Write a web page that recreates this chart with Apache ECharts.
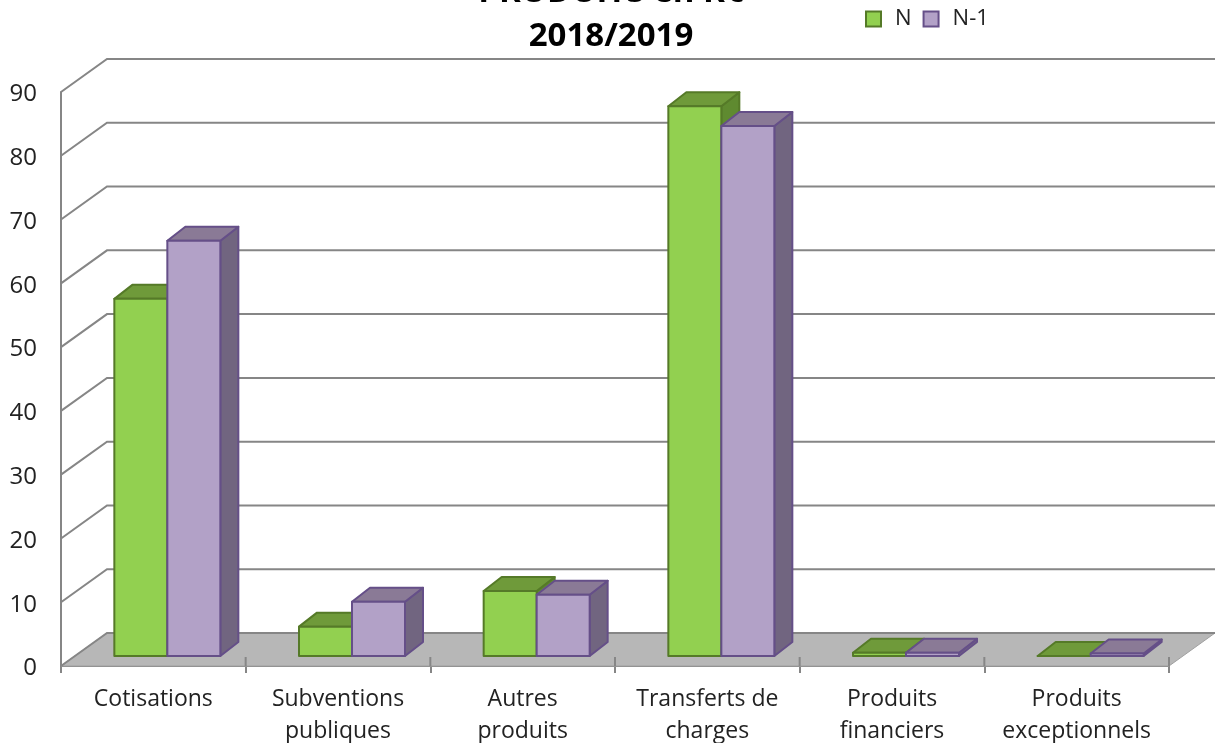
<!DOCTYPE html>
<html>
<head>
<meta charset="utf-8">
<script src="https://cdn.jsdelivr.net/npm/echarts@6/dist/echarts.min.js"></script>
<style>
  html, body { margin: 0; padding: 0; background: #fff; }
  #main { width: 1215px; height: 743px; }
</style>
</head>
<body>
<div id="main"></div>
<script>
const categories = ['Cotisations', 'Subventions\npubliques', 'Autres\nproduits', 'Transferts de\ncharges', 'Produits\nfinanciers', 'Produits\nexceptionnels'];
const valuesN = [56, 4.6, 10.2, 86.2, 0.5, 0];
const valuesN1 = [65.1, 8.5, 9.6, 83.1, 0.5, 0.4];
const yTicks = [0, 10, 20, 30, 40, 50, 60, 70, 80, 90];

// fake 3d offsets, in pixels
const depthX = 46, depthY = -33;
const barLift = 10, barShift = 14, barDepthX = 18, barDepthY = -14;
const barWidth = 53;
const tickUp = 9;
const fontName = '"Open Sans", "Noto Sans", sans-serif';

function wallItem(params, api) {
  const v = api.value(0);
  const p = api.coord([0, v]);
  const step = api.size([1, 0])[0];
  const x0 = api.coord([0, 0])[0] - step / 2;
  const x1 = x0 + step * categories.length;
  const y = p[1];
  const line = { stroke: '#868686', lineWidth: 2, fill: null };
  const children = [{
    type: 'polyline',
    shape: { points: [[x0, y], [x0 + depthX, y + depthY], [x1 + depthX, y + depthY]] },
    style: line
  }];
  if (v === 0) {
    children.unshift({
      type: 'polygon',
      shape: { points: [[x0, y], [x0 + depthX, y + depthY], [x1 + depthX, y + depthY], [x1, y]] },
      style: { fill: '#b7b7b7', stroke: '#a0a0a0', lineWidth: 1 }
    });
    // the category ticks also poke up a bit into the floor
    categories.concat(['']).forEach(function (c, i) {
      children.push({
        type: 'line',
        shape: { x1: x0 + step * i, y1: y, x2: x0 + step * i, y2: y - tickUp },
        style: { stroke: '#868686', lineWidth: 2 }
      });
    });
  }
  return { type: 'group', children: children };
}

function barItem(side, colors) {
  return function (params, api) {
    const i = api.value(0);
    const base = api.coord([i, 0]);
    const top = api.coord([i, api.value(1)]);
    const xl = base[0] + barShift + (side === 0 ? -barWidth : 0);
    const xr = xl + barWidth;
    const yb = base[1] - barLift;
    const yt = top[1] - barLift;
    const edge = { stroke: colors.edge, lineWidth: 2, lineJoin: 'round' };
    return {
      type: 'group',
      children: [{
        type: 'polygon',
        shape: { points: [[xr, yb], [xr + barDepthX, yb + barDepthY], [xr + barDepthX, yt + barDepthY], [xr, yt]] },
        style: Object.assign({ fill: colors.side }, edge)
      }, {
        type: 'polygon',
        shape: { points: [[xl, yt], [xl + barDepthX, yt + barDepthY], [xr + barDepthX, yt + barDepthY], [xr, yt]] },
        style: Object.assign({ fill: colors.top }, edge)
      }, {
        type: 'rect',
        shape: { x: xl, y: yt, width: barWidth, height: yb - yt },
        style: Object.assign({ fill: colors.front }, edge)
      }]
    };
  };
}

const greenBar = { front: '#92d050', top: '#6f9a3a', side: '#5f8a30', edge: '#557a28' };
const purpleBar = { front: '#b2a1c7', top: '#8a7a96', side: '#716580', edge: '#654f88' };

const myChart = echarts.init(document.getElementById('main'), null, { renderer: 'canvas' });
myChart.setOption({
  backgroundColor: '#fff',
  animation: false,
  title: {
    text: 'PRODUITS en K€\n2018/2019',
    left: 606,
    top: -34,
    textAlign: 'center',
    textStyle: { fontFamily: fontName, fontSize: 33, fontWeight: 'bold', color: '#000', lineHeight: 44 }
  },
  legend: {
    data: ['N', 'N-1'],
    left: 860,
    top: 3,
    icon: 'rect',
    itemWidth: 15,
    itemHeight: 15,
    itemGap: 11,
    textStyle: { fontFamily: fontName, fontSize: 22, color: '#222', padding: [0, 0, 0, 9] }
  },
  grid: { left: 61, right: 46, top: 92, bottom: 77, outerBoundsMode: 'none' },
  xAxis: {
    type: 'category',
    data: categories,
    axisLine: { show: true, lineStyle: { color: '#868686', width: 2 } },
    axisTick: { show: true, alignWithLabel: false, length: 7, lineStyle: { color: '#868686', width: 2 } },
    axisLabel: { interval: 0, margin: 17, fontFamily: fontName, fontSize: 23, lineHeight: 32, color: '#222' }
  },
  yAxis: {
    type: 'value',
    min: 0,
    max: 90,
    interval: 10,
    splitLine: { show: false },
    axisTick: { show: false },
    axisLine: { show: true, lineStyle: { color: '#868686', width: 2 } },
    axisLabel: {
      margin: 24,
      formatter: '{tick|{value}}',
      rich: { tick: { padding: [5, 0, 0, 0], fontFamily: fontName, fontSize: 24, color: '#222' } }
    }
  },
  series: [{
    type: 'custom',
    name: 'walls',
    silent: true,
    coordinateSystem: 'cartesian2d',
    renderItem: wallItem,
    encode: { x: -1, y: 0 },
    data: yTicks.map(function (t) { return [t]; }),
    z: 1
  }, {
    type: 'custom',
    name: 'N',
    renderItem: barItem(0, greenBar),
    itemStyle: { color: greenBar.front, borderColor: greenBar.edge, borderWidth: 2 },
    encode: { x: 0, y: 1 },
    data: valuesN.map(function (v, i) { return [i, v]; }),
    z: 3
  }, {
    type: 'custom',
    name: 'N-1',
    renderItem: barItem(1, purpleBar),
    itemStyle: { color: purpleBar.front, borderColor: purpleBar.edge, borderWidth: 2 },
    encode: { x: 0, y: 1 },
    data: valuesN1.map(function (v, i) { return [i, v]; }),
    z: 3
  }]
});
</script>
</body>
</html>
